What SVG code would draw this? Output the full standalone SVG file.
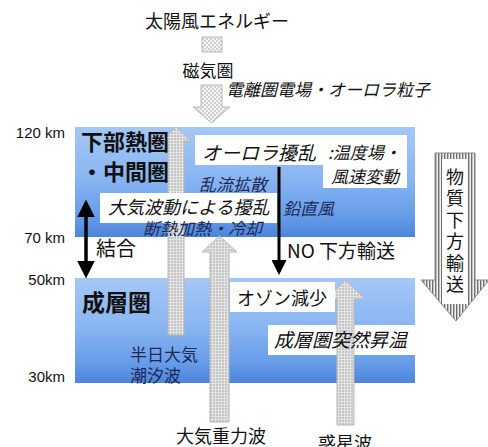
<svg xmlns="http://www.w3.org/2000/svg" width="488" height="447" viewBox="0 0 488 447">
<defs>
<linearGradient id="blue" x1="0" y1="0" x2="0" y2="1">
<stop offset="0" stop-color="#a5c7f7"/>
<stop offset="0.45" stop-color="#8ab6f2"/>
<stop offset="0.8" stop-color="#689de9"/>
<stop offset="1" stop-color="#4b85db"/>
</linearGradient>
<pattern id="dots" width="4" height="4" patternUnits="userSpaceOnUse">
<rect width="4" height="4" fill="#f4f4f4"/>
<circle cx="1" cy="1" r="0.8" fill="#a0a0a0"/>
<circle cx="3" cy="3" r="0.8" fill="#a0a0a0"/>
</pattern>
<pattern id="dense" width="3" height="3" patternUnits="userSpaceOnUse">
<rect width="3" height="3" fill="#e4e4e4"/>
<circle cx="1" cy="1" r="0.75" fill="#959595"/>
</pattern>
<pattern id="stripes" width="3" height="3" patternUnits="userSpaceOnUse">
<rect width="3" height="3" fill="#f2f2f2"/>
<rect width="1.4" height="3" fill="#6e6e6e"/>
</pattern>
<marker id="ah" markerWidth="5" markerHeight="5" refX="4" refY="2.5" orient="auto-start-reverse" markerUnits="strokeWidth">
<path d="M0,0 L5,2.5 L0,5 Z" fill="#000"/>
</marker>
</defs>
<style>
text{font-family:"Noto Sans CJK JP","Liberation Sans",sans-serif;fill:#111}
.km{font-family:"Liberation Sans","Noto Sans CJK JP",sans-serif;font-size:15px;text-anchor:end}
.it{font-style:italic}
.navy{fill:#1c2a55}
.wbox{fill:#ffffff}
.bold{font-weight:bold}
.darr{stroke:#b8b8b8;stroke-width:1}
</style>

<g id="upper-box"><rect x="75" y="127" width="340" height="110" fill="url(#blue)"/></g>
<g id="lower-box"><rect x="75" y="278" width="340" height="105" fill="url(#blue)"/></g>

<g id="altitudes">
<text class="km" x="65" y="138">120 km</text>
<text class="km" x="65" y="243">70 km</text>
<text class="km" x="65" y="285">50km</text>
<text class="km" x="65" y="382">30km</text>
</g>

<g id="solar">
<text x="217" y="28" font-size="18" text-anchor="middle">太陽風エネルギー</text>
<rect x="202" y="37" width="20" height="15" fill="url(#dots)" class="darr"/>
<text x="208" y="77" font-size="17" text-anchor="middle">磁気圏</text>
<path d="M201,85 H222 V107 H230 L211.5,123 L193,107 H201 Z" fill="url(#dots)" class="darr"/>
<text x="226" y="96" font-size="17" class="it">電離圏電場・オーロラ粒子</text>
</g>

<g id="material-transport">
<path d="M435,153 H475 V280 H489 L456,321 L421,280 H435 Z" fill="url(#stripes)" stroke="#8a8a8a" stroke-width="1"/>
<rect x="442" y="159" width="26" height="145" fill="#ffffff"/>
<text x="455" y="168" font-size="18" writing-mode="tb" letter-spacing="3.5">物質下方輸送</text>
</g>

<g id="tide">
<path d="M168,335 V141 H161 L176,127 L191,141 H184 V335 Z" fill="url(#dense)" class="darr"/>
<text x="130" y="361" font-size="17" class="navy">半日大気</text>
<text x="130" y="382" font-size="17" class="navy">潮汐波</text>
</g>

<g id="layer-labels">
<text x="81" y="150" font-size="22" class="bold">下部熱圏</text>
<text x="81" y="180" font-size="22" class="bold">・中間圏</text>
<text x="82" y="311" font-size="23" class="bold">成層圏</text>
</g>

<g id="aurora">
<path d="M195,135 H407 V188 H323 V165 H195 Z" class="wbox"/>
<text x="202" y="160" font-size="19" class="it">オーロラ擾乱</text>
<text x="328" y="159" font-size="17" class="it">:温度場・</text>
<text x="331" y="183" font-size="17" class="it">風速変動</text>
<text x="199" y="191" font-size="17" class="it navy">乱流拡散</text>
</g>

<g id="wave-disturbance">
<rect x="100" y="193" width="177" height="30" class="wbox"/>
<text x="108" y="214" font-size="18" class="it">大気波動による擾乱</text>
<text x="143" y="235" font-size="17" class="it navy">断熱加熱・冷却</text>
<text x="283" y="215" font-size="17" class="it navy">鉛直風</text>
</g>

<g id="gravity-wave">
<path d="M210,422 V252 H202 L219.5,236 L237,252 H229 V422 Z" fill="url(#dense)" class="darr"/>
<text x="221" y="443" font-size="18" text-anchor="middle">大気重力波</text>
</g>

<g id="ssw">
<rect x="268" y="325" width="147" height="30" class="wbox"/>
</g>
<g id="planetary-wave">
<path d="M337,425 V299 H326 L345.5,280 L365,299 H354 V425 Z" fill="url(#dense)" class="darr"/>
<text x="345" y="450" font-size="18" text-anchor="middle">惑星波</text>
</g>
<g id="ssw-label">
<text x="274" y="347" font-size="19" class="it">成層圏突然昇温</text>
</g>

<g id="ozone">
<rect x="230" y="282" width="105" height="30" class="wbox"/>
<text x="237" y="305" font-size="18">オゾン減少</text>
</g>

<g id="connectors">
<line x1="86" y1="203" x2="86" y2="275" stroke="#000" stroke-width="3.5" marker-start="url(#ah)" marker-end="url(#ah)"/>
<line x1="279" y1="167" x2="279" y2="272" stroke="#000" stroke-width="3" marker-end="url(#ah)"/>
</g>

<g id="labels">
<text x="96" y="256" font-size="20">結合</text>
<text x="287" y="258" font-size="19">NO 下方輸送</text>
</g>
</svg>
